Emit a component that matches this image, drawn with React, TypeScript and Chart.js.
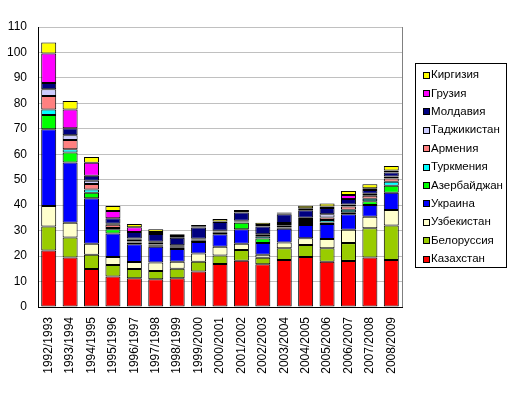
import React, { useEffect, useRef } from "react";
import { Chart, registerables } from "chart.js";

Chart.register(...registerables);

const categories = [
  "1992/1993", "1993/1994", "1994/1995", "1995/1996", "1996/1997", "1997/1998",
  "1998/1999", "1999/2000", "2000/2001", "2001/2002", "2002/2003", "2003/2004",
  "2004/2005", "2005/2006", "2006/2007", "2007/2008", "2008/2009",
];

const seriesNames = [
  "Казахстан", "Белоруссия", "Узбекистан", "Украина", "Азербайджан", "Туркмения",
  "Армения", "Таджикистан", "Молдавия", "Грузия", "Киргизия",
];

const seriesColors = [
  "#FF0000", "#99CC00", "#FFFFCC", "#0000FF", "#00FF00", "#00FFFF",
  "#FF8080", "#CCCCFF", "#000080", "#FF00FF", "#FFFF00",
];

const kazakhstan = [22.2, 19.4, 14.9, 12.0, 11.3, 10.9, 11.3, 13.9, 16.9, 18.2, 16.8, 18.5, 19.6, 17.8, 18.1, 19.4, 18.5];
const belarus = [9.4, 7.9, 5.6, 4.5, 3.6, 3.2, 3.7, 3.9, 3.3, 4.2, 2.5, 4.6, 4.8, 5.3, 7.0, 11.5, 13.5];
const uzbekistan = [8.1, 5.8, 4.3, 3.1, 2.8, 3.4, 2.8, 3.2, 3.5, 2.4, 1.2, 2.2, 2.6, 3.6, 5.2, 4.6, 6.1];
const ukraine = [30.1, 23.7, 17.9, 9.3, 7.0, 6.2, 5.0, 4.5, 4.9, 5.7, 4.6, 5.4, 5.2, 5.9, 6.1, 4.6, 6.8];
const azerbaijan = [5.6, 3.9, 2.2, 1.6, 0.6, 0.6, 0.4, 0.4, 0.8, 2.6, 1.8, 0.5, 0.8, 0.6, 0.8, 1.4, 2.7];
const turkmenistan = [2.2, 1.3, 1.3, 0.5, 0.4, 0.3, 0.3, 0.3, 0.2, 0.2, 0.9, 0.7, 0.8, 1.0, 1.0, 1.0, 1.6];
const armenia = [5.3, 3.6, 2.1, 1.3, 0.7, 0.6, 0.4, 0.3, 0.2, 0.3, 0.5, 0.7, 0.8, 1.0, 1.3, 1.2, 1.3];
const tajikistan = [2.6, 1.9, 1.3, 0.4, 0.5, 0.4, 0.4, 0.3, 0.2, 0.3, 0.3, 0.4, 0.5, 1.2, 0.8, 0.8, 0.8];
const moldova = [2.5, 2.7, 2.0, 2.2, 2.6, 3.1, 2.9, 4.4, 3.4, 3.2, 3.0, 3.4, 2.9, 2.5, 2.1, 1.5, 1.5];
const georgia = [11.6, 7.4, 5.1, 2.8, 1.8, 0.8, 0.7, 0.3, 0.2, 0.2, 0.6, 0.3, 0.8, 0.6, 1.6, 0.7, 0.8];
const kyrgyzstan = [4.3, 3.3, 2.2, 2.0, 1.3, 1.0, 0.7, 0.7, 1.0, 0.8, 0.9, 0.4, 1.0, 1.2, 1.6, 1.5, 1.8];

const seriesValues = [
  kazakhstan, belarus, uzbekistan, ukraine, azerbaijan, turkmenistan,
  armenia, tajikistan, moldova, georgia, kyrgyzstan,
];

const yMin = 0;
const yMax = 110;
const yStep = 10;

const FONT = "'Liberation Sans', Arial, sans-serif";

const frameAndLegend = {
  id: "frameAndLegend",
  afterDraw(chart: any) {
    const ctx = chart.ctx;
    const area = chart.chartArea;
    ctx.save();
    // right plot border
    ctx.strokeStyle = "#808080";
    ctx.lineWidth = 1;
    ctx.beginPath();
    ctx.moveTo(Math.round(area.right) + 0.5, area.top);
    ctx.lineTo(Math.round(area.right) + 0.5, area.bottom);
    ctx.stroke();

    // legend box
    const bx = 415.5, by = 63.5, bw = 91, bh = 204;
    ctx.fillStyle = "#FFFFFF";
    ctx.fillRect(bx, by, bw, bh);
    ctx.strokeStyle = "#000000";
    ctx.strokeRect(bx, by, bw, bh);
    ctx.font = "11.5px " + FONT;
    ctx.textBaseline = "middle";
    ctx.textAlign = "left";
    const n = chart.data.datasets.length;
    for (let k = 0; k < n; k++) {
      const ds = chart.data.datasets[n - 1 - k];
      const cy = 74.5 + k * 18.4;
      const sy = Math.round(cy - 3) + 0.5;
      ctx.fillStyle = ds.backgroundColor;
      ctx.fillRect(423.5, sy, 6, 6);
      ctx.strokeStyle = "#000000";
      ctx.strokeRect(423.5, sy, 6, 6);
      ctx.fillStyle = "#000000";
      ctx.fillText(ds.label, 431, cy + 0.5);
    }
    ctx.restore();
  },
};

export default function App() {
  const canvasRef = useRef<HTMLCanvasElement | null>(null);

  useEffect(() => {
    const canvas = canvasRef.current;
    if (!canvas) return;
    const chart = new Chart(canvas, {
      type: "bar",
      data: {
        labels: categories,
        datasets: seriesNames.map((name, i) => ({
          label: name,
          data: seriesValues[i],
          backgroundColor: seriesColors[i],
          borderColor: "#000000",
          borderWidth: 1,
          borderSkipped: false,
          categoryPercentage: 1,
          barPercentage: 0.7,
        })),
      },
      options: {
        responsive: false,
        animation: false,
        devicePixelRatio: 1,
        layout: { padding: { left: 0, right: 111, top: 27, bottom: 0 } },
        plugins: {
          legend: { display: false },
          tooltip: { enabled: false },
        },
        scales: {
          x: {
            stacked: true,
            grid: { display: false, drawTicks: false },
            border: { display: true, color: "#000000", width: 1 },
            ticks: {
              autoSkip: false,
              minRotation: 90,
              maxRotation: 90,
              padding: 10,
              color: "#000000",
              font: { family: FONT, size: 12 },
            },
            afterFit(scale: any) {
              scale.height = 86;
            },
          },
          y: {
            stacked: true,
            min: yMin,
            max: yMax,
            ticks: {
              stepSize: yStep,
              padding: 11,
              color: "#000000",
              font: { family: FONT, size: 12 },
            },
            grid: { color: "#C0C0C0", drawTicks: false },
            border: { display: true, color: "#000000", width: 1 },
            afterFit(scale: any) {
              scale.width = 38;
            },
          },
        },
      },
      plugins: [frameAndLegend],
    });
    return () => chart.destroy();
  }, []);

  return (
    <div style={{ position: "absolute", left: 0, top: 0, width: 513, height: 393, background: "#fff" }}>
      <canvas ref={canvasRef} width={513} height={393} style={{ display: "block" }} />
    </div>
  );
}
